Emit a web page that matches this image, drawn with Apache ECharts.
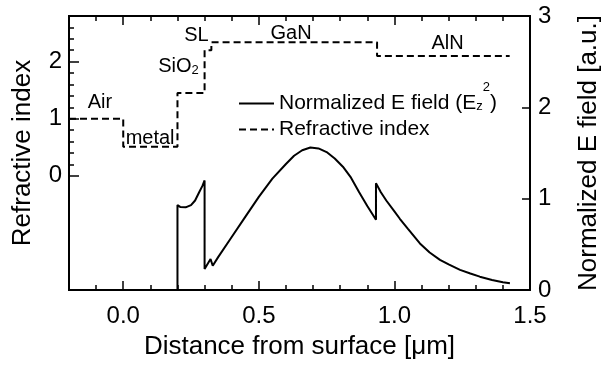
<!DOCTYPE html>
<html>
<head>
<meta charset="utf-8">
<script src="https://cdn.jsdelivr.net/npm/echarts@6/dist/echarts.min.js"></script>
<style>
  html, body { margin: 0; padding: 0; background: #fff; }
  #chart { width: 604px; height: 372px; }
</style>
</head>
<body>
<div id="chart"></div>
<script>
// refractive index profile (step), [distance um, n]
const indexProfile = [
  [-0.2, 1.0], [0.0, 1.0], [0.0, 0.51], [0.2, 0.51], [0.2, 1.45], [0.3, 1.45],
  [0.3, 2.2], [0.325, 2.2], [0.325, 2.34], [0.936, 2.34], [0.936, 2.1], [1.425, 2.1]
]

// normalized |Ez|^2, [distance um, a.u.]
const fieldProfile = [
  [0.2, 0], [0.2, 0.93], [0.21, 0.91], [0.23, 0.905], [0.25, 0.93], [0.265, 0.98],
  [0.28, 1.07], [0.292, 1.14], [0.3, 1.2], [0.3, 0.23], [0.322, 0.34], [0.33, 0.265],
  [0.35, 0.36], [0.40, 0.58], [0.45, 0.80], [0.50, 1.02], [0.55, 1.22], [0.60, 1.38],
  [0.63, 1.47], [0.66, 1.53], [0.69, 1.56], [0.72, 1.55], [0.75, 1.51], [0.78, 1.44],
  [0.81, 1.35], [0.84, 1.23], [0.87, 1.07], [0.90, 0.92], [0.932, 0.77], [0.932, 1.17],
  [0.95, 1.07], [0.97, 0.98], [1.0, 0.86], [1.02, 0.78], [1.05, 0.67], [1.094, 0.51],
  [1.13, 0.41], [1.168, 0.33], [1.2, 0.28], [1.242, 0.22], [1.28, 0.18], [1.315, 0.146],
  [1.36, 0.11], [1.4, 0.085], [1.426, 0.073]
]

// layer names written on the plot
const layerNames = ['Air', 'metal', '{a|SiO}{s|2}', 'SL', 'GaN', 'AlN']
const layerCoords = [[-0.086, 1.29], [0.099, 0.66], [0.204, 1.92], [0.27, 2.465], [0.619, 2.5], [1.196, 2.31]]

// ticks
const xMajorTicks = [0, 0.5, 1.0, 1.5]
const xMinorTicks = [-0.1, 0, 0.1, 0.2, 0.3, 0.4, 0.5, 0.6, 0.7, 0.8, 0.9, 1.0, 1.1, 1.2, 1.3, 1.4]
const leftMajorTicks = [0, 1, 2]
const leftMinorTicks = [0, 0.2, 0.4, 0.6, 0.8, 1.0, 1.2, 1.4, 1.6, 1.8, 2.0, 2.2, 2.4, 2.6, 2.8]

const font = 'Liberation Sans'
const black = '#000'

const chart = echarts.init(document.getElementById('chart'))

// x axes of the field grid (grid 1) carry all the x ticks and labels
function xAxisOf(pos, ticks, len, labels) {
  return {
    type: 'value',
    gridIndex: 1,
    position: pos,
    min: -0.2,
    max: 1.5,
    axisLine: { show: true, onZero: false, lineStyle: { color: black, width: 2 } },
    axisTick: { show: true, inside: true, length: len, customValues: ticks, lineStyle: { color: black, width: 1.5 } },
    axisLabel: labels ? {
      customValues: xMajorTicks,
      margin: 14,
      color: black,
      fontFamily: font,
      fontSize: 24,
      formatter: v => v.toFixed(1)
    } : { show: false },
    splitLine: { show: false }
  }
}

const plotRect = { left: 69, right: 74, top: 16, bottom: 82, outerBoundsMode: 'none' }

const option = {
  animation: false,
  // grid 0: refractive index (left axis), grid 1: E field (right axis), same rectangle
  grid: [Object.assign({}, plotRect), Object.assign({}, plotRect)],
  legend: {
    orient: 'vertical',
    left: 233,
    top: 76,
    itemWidth: 35,
    itemHeight: 14,
    itemGap: -7,
    data: ['field', 'index'],
    itemStyle: { opacity: 0 },
    formatter: name => name === 'field'
      ? '{t|Normalized E field (E}{sub|z}{sup|2}{t|)}'
      : '{t|Refractive index}',
    textStyle: {
      color: black,
      fontFamily: font,
      padding: [0, 0, 0, 0],
      rich: {
        t: { fontSize: 21, fontFamily: font, color: black, lineHeight: 24, verticalAlign: 'middle' },
        sub: { fontSize: 13, fontFamily: font, color: black, lineHeight: 13, padding: [6, 0, 0, 0], verticalAlign: 'middle' },
        sup: { fontSize: 13, fontFamily: font, color: black, lineHeight: 13, padding: [0, 0, 32, 0], verticalAlign: 'middle' }
      }
    }
  },
  xAxis: [
    { type: 'value', gridIndex: 0, min: -0.2, max: 1.5, show: false },
    xAxisOf('bottom', xMinorTicks, 5, false),
    Object.assign(xAxisOf('bottom', xMajorTicks, 9, true), {
      name: 'Distance from surface [μm]',
      nameLocation: 'middle',
      nameGap: 44,
      nameTextStyle: { color: black, fontFamily: font, fontSize: 26 }
    }),
    xAxisOf('top', xMinorTicks, 5, false),
    xAxisOf('top', xMajorTicks, 9, false)
  ],
  yAxis: [
    {
      type: 'value',
      gridIndex: 1,
      position: 'right',
      min: 0,
      max: 3,
      interval: 1,
      name: 'Normalized E field [a.u.]',
      nameLocation: 'middle',
      nameGap: 46,
      nameTextStyle: { color: black, fontFamily: font, fontSize: 26 },
      axisLine: { show: true, onZero: false, lineStyle: { color: black, width: 2 } },
      axisTick: { show: true, inside: true, length: 8, lineStyle: { color: black, width: 1.5 } },
      axisLabel: { margin: 8, color: black, fontFamily: font, fontSize: 24 },
      splitLine: { show: false }
    },
    {
      type: 'value',
      gridIndex: 0,
      position: 'left',
      min: -2,
      max: 2.8,
      name: 'Refractive index',
      nameLocation: 'middle',
      nameGap: 33,
      nameTextStyle: { color: black, fontFamily: font, fontSize: 26 },
      axisLine: { show: true, onZero: false, lineStyle: { color: black, width: 2 } },
      axisTick: { show: true, inside: true, length: 5, customValues: leftMinorTicks, lineStyle: { color: black, width: 1.5 } },
      axisLabel: { show: false },
      splitLine: { show: false }
    },
    {
      type: 'value',
      gridIndex: 0,
      position: 'left',
      min: -2,
      max: 2.8,
      axisLine: { show: true, onZero: false, lineStyle: { color: black, width: 2 } },
      axisTick: { show: true, inside: true, length: 10, customValues: leftMajorTicks, lineStyle: { color: black, width: 1.5 } },
      axisLabel: { customValues: leftMajorTicks, margin: 7, color: black, fontFamily: font, fontSize: 24 },
      splitLine: { show: false }
    }
  ],
  series: [
    {
      name: 'field',
      type: 'line',
      xAxisIndex: 1,
      yAxisIndex: 0,
      symbol: 'none',
      data: fieldProfile,
      lineStyle: { color: black, width: 2 },
      itemStyle: { color: black }
    },
    {
      name: 'index',
      type: 'line',
      xAxisIndex: 0,
      yAxisIndex: 1,
      symbol: 'none',
      data: indexProfile,
      lineStyle: { color: black, width: 2, type: [7, 4] },
      itemStyle: { color: black },
      markPoint: {
        symbol: 'circle',
        symbolSize: 0,
        label: {
          show: true,
          position: 'inside',
          color: black,
          fontFamily: font,
          fontSize: 20,
          formatter: p => p.name,
          rich: {
            a: { fontSize: 20, fontFamily: font, color: black, lineHeight: 22 },
            s: { fontSize: 13, fontFamily: font, color: black, lineHeight: 13, padding: [8, 0, 0, 0] }
          }
        },
        data: layerNames.map((n, i) => ({ name: n, coord: layerCoords[i] }))
      }
    }
  ]
}

chart.setOption(option)
</script>
</body>
</html>
